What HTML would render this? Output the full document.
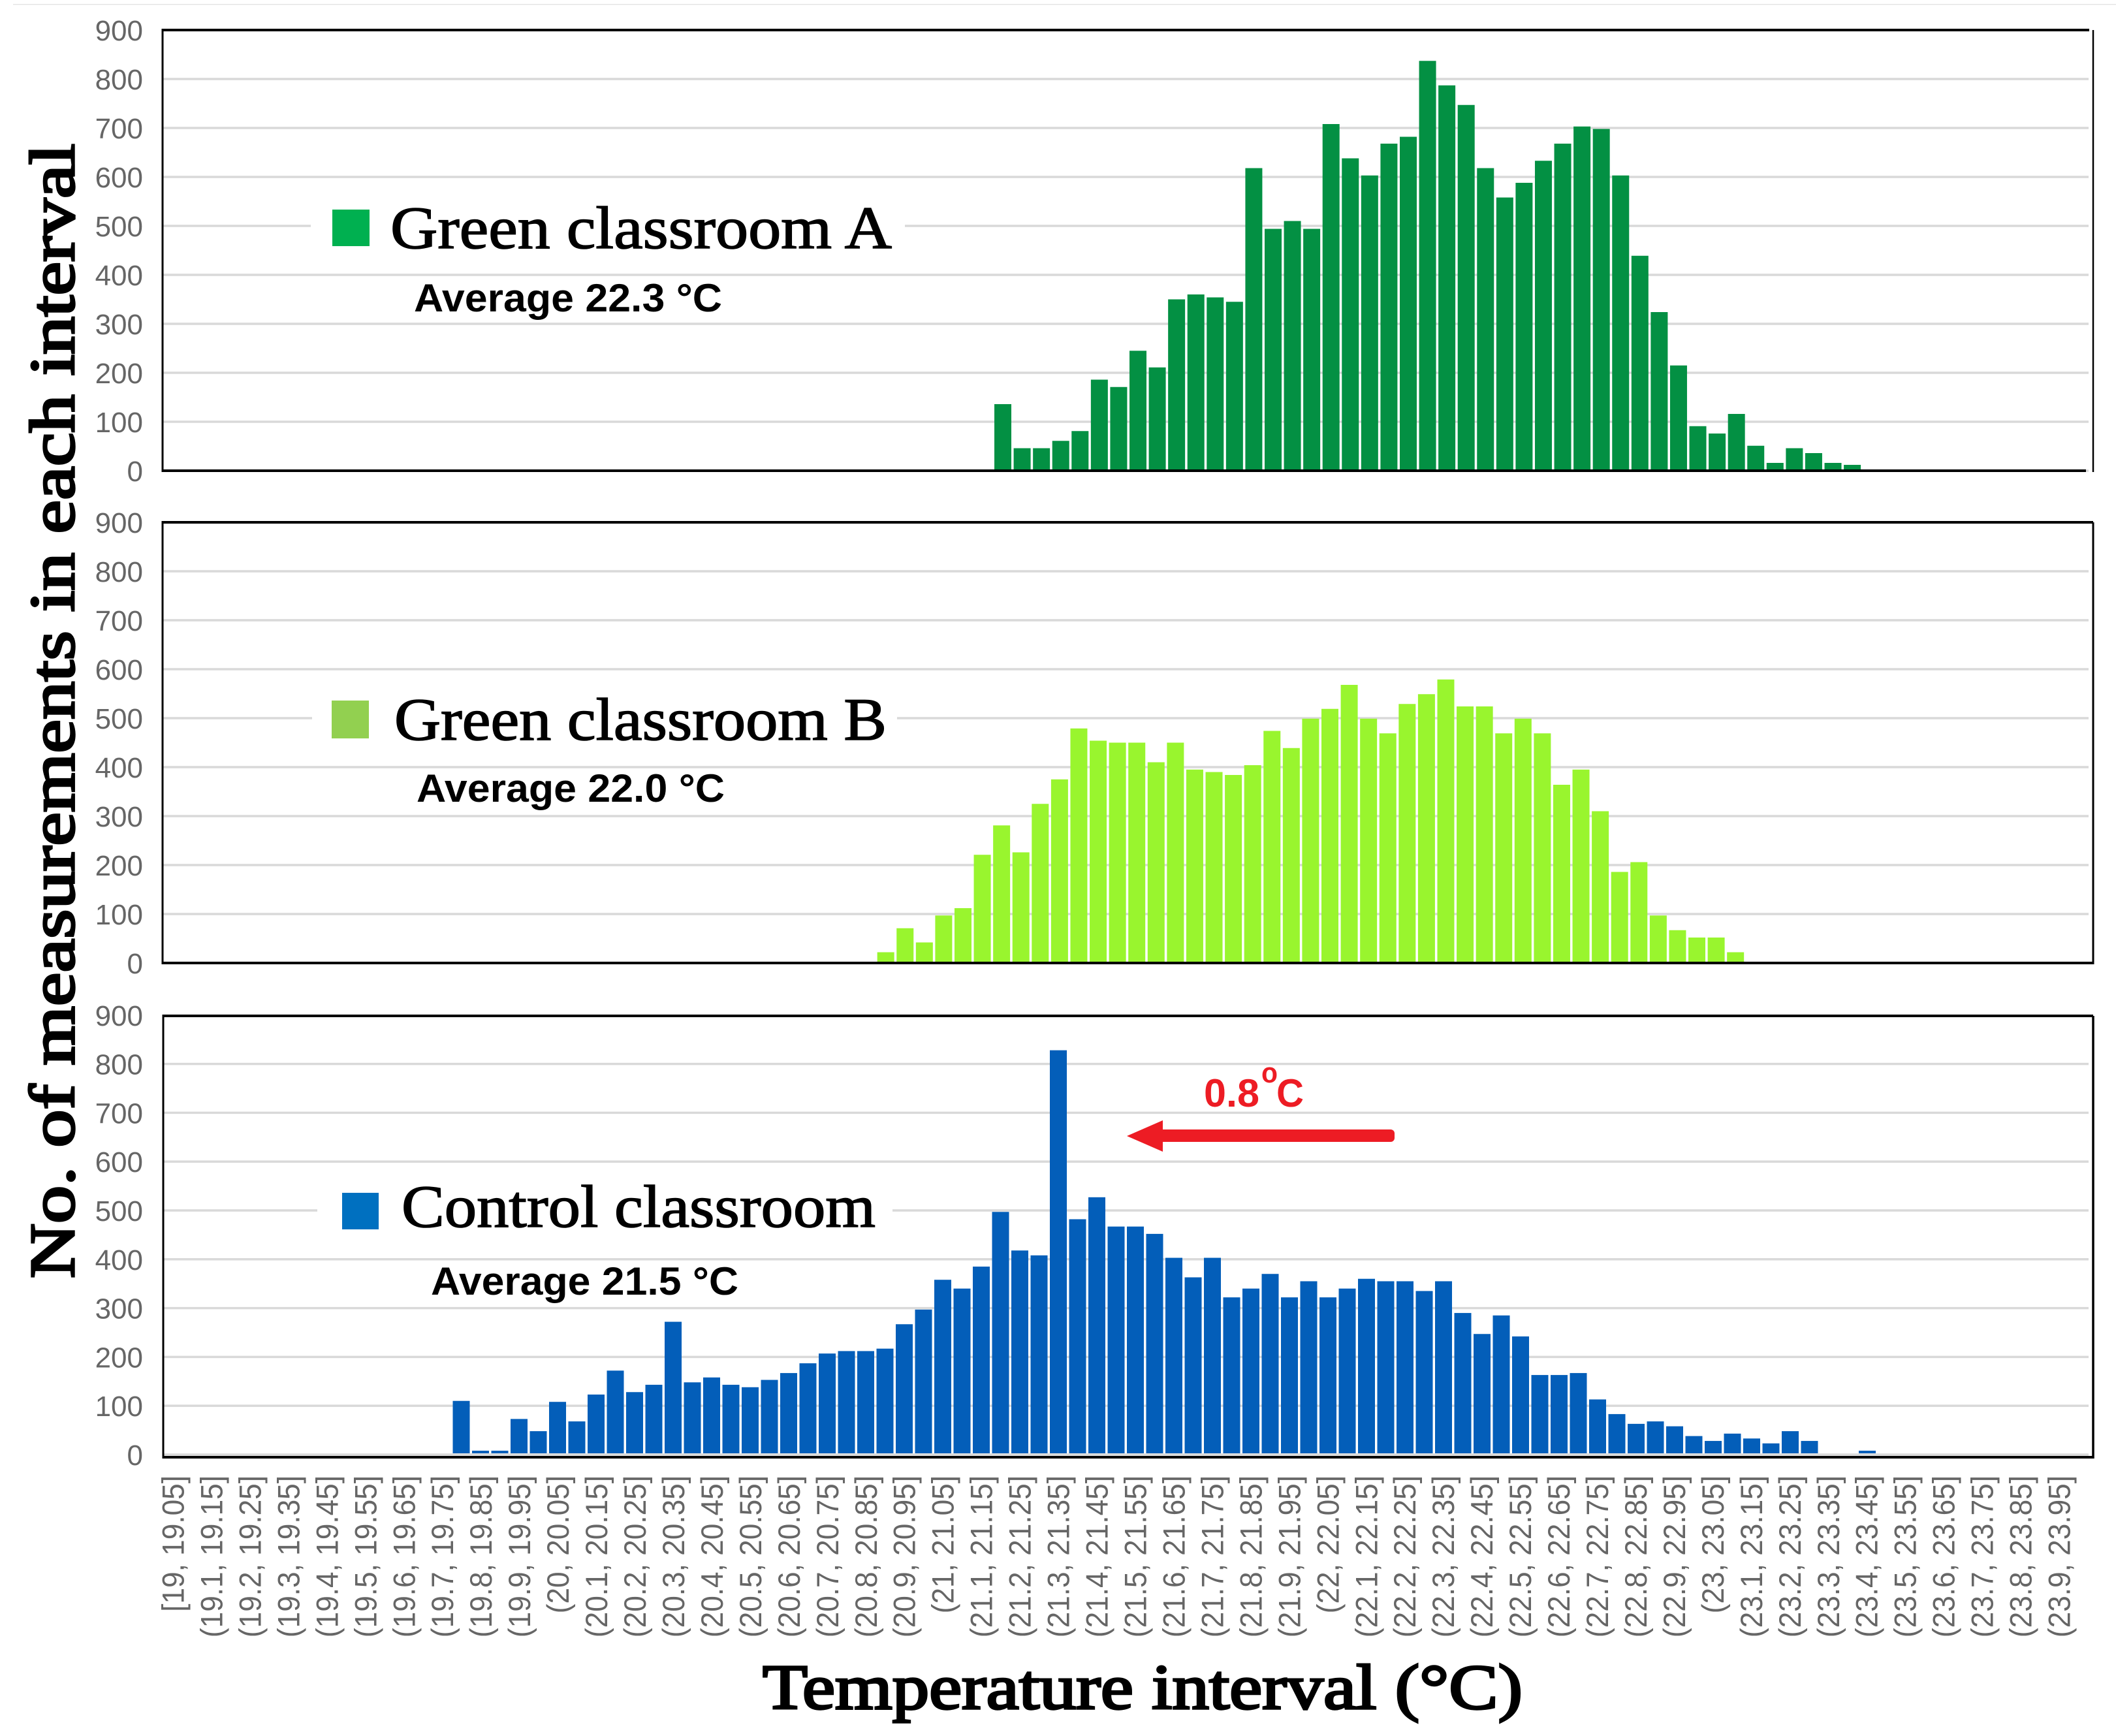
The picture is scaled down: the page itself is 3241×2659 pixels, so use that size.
<!DOCTYPE html>
<html lang="en">
<head>
<meta charset="utf-8">
<title>Temperature interval histograms</title>
<style>
html,body{margin:0;padding:0;background:#fff;}
svg{display:block;}
.tick{font-family:"Liberation Sans",Arial,sans-serif;font-size:44px;fill:#666;}
.xtick{font-family:"Liberation Sans",Arial,sans-serif;font-size:47px;fill:#666;}
.legend{font-family:"Liberation Serif",serif;font-size:92px;fill:#000;stroke:#000;stroke-width:1.6px;}
.avg{font-family:"Liberation Sans",Arial,sans-serif;font-weight:bold;font-size:60px;fill:#000;}
.title{font-family:"Liberation Serif",serif;font-size:98px;fill:#000;stroke:#000;stroke-width:3.4px;}
.anno{font-family:"Liberation Sans",Arial,sans-serif;font-weight:bold;fill:#ed1c24;}
</style>
</head>
<body>
<svg id="chart" xmlns="http://www.w3.org/2000/svg" width="3241" height="2659" viewBox="0 0 3241 2659">
  <rect x="0" y="0" width="3241" height="2659" fill="#fff"/>
  <rect x="20" y="6" width="3221" height="1.5" fill="#e5e5e5"/>
  <g id="panels"></g>

  <g>
    <rect x="476" y="330" width="910" height="30" fill="#fff"/>
    <rect x="509" y="321" width="57" height="56" fill="#00b050"/>
    <text class="legend" x="598" y="380" textLength="768" lengthAdjust="spacingAndGlyphs">Green classroom A</text>
    <text class="avg" x="634" y="477" textLength="472" lengthAdjust="spacingAndGlyphs">Average 22.3 °C</text>
  </g>
  <g>
    <rect x="478" y="1084" width="896" height="30" fill="#fff"/>
    <rect x="508" y="1073" width="57" height="58" fill="#92d050"/>
    <text class="legend" x="604" y="1133" textLength="754" lengthAdjust="spacingAndGlyphs">Green classroom B</text>
    <text class="avg" x="638" y="1228" textLength="472" lengthAdjust="spacingAndGlyphs">Average 22.0 °C</text>
  </g>
  <g>
    <rect x="486" y="1836" width="881" height="30" fill="#fff"/>
    <rect x="524" y="1827" width="56" height="56" fill="#0070c0"/>
    <text class="legend" x="615" y="1879" textLength="726" lengthAdjust="spacingAndGlyphs">Control classroom</text>
    <text class="avg" x="660" y="1983" textLength="471" lengthAdjust="spacingAndGlyphs">Average 21.5 °C</text>
  </g>

  <g>
    <text class="anno" x="1844" y="1695" font-size="60" textLength="85" lengthAdjust="spacingAndGlyphs">0.8</text>
    <text class="anno" x="1932" y="1658" font-size="44" textLength="25" lengthAdjust="spacingAndGlyphs">o</text>
    <text class="anno" x="1955" y="1695" font-size="60" textLength="42" lengthAdjust="spacingAndGlyphs">C</text>
    <rect x="1770" y="1730" width="366" height="19" rx="6" fill="#ed1c24"/>
    <polygon points="1726,1740 1781,1716 1781,1764" fill="#ed1c24"/>
  </g>

  <text class="title" transform="translate(113,1958) rotate(-90)" x="0" y="0" textLength="1738" lengthAdjust="spacingAndGlyphs">No. of measurements in each interval</text>
  <text class="title" x="1168" y="2617" textLength="1164" lengthAdjust="spacingAndGlyphs">Temperature interval (°C)</text>
</svg>
<script>
const yTicks = [0, 100, 200, 300, 400, 500, 600, 700, 800, 900];
const binLabels = [
  "[19, 19.05]", "(19.1, 19.15]", "(19.2, 19.25]", "(19.3, 19.35]", "(19.4, 19.45]",
  "(19.5, 19.55]", "(19.6, 19.65]", "(19.7, 19.75]", "(19.8, 19.85]", "(19.9, 19.95]",
  "(20, 20.05]", "(20.1, 20.15]", "(20.2, 20.25]", "(20.3, 20.35]", "(20.4, 20.45]",
  "(20.5, 20.55]", "(20.6, 20.65]", "(20.7, 20.75]", "(20.8, 20.85]", "(20.9, 20.95]",
  "(21, 21.05]", "(21.1, 21.15]", "(21.2, 21.25]", "(21.3, 21.35]", "(21.4, 21.45]",
  "(21.5, 21.55]", "(21.6, 21.65]", "(21.7, 21.75]", "(21.8, 21.85]", "(21.9, 21.95]",
  "(22, 22.05]", "(22.1, 22.15]", "(22.2, 22.25]", "(22.3, 22.35]", "(22.4, 22.45]",
  "(22.5, 22.55]", "(22.6, 22.65]", "(22.7, 22.75]", "(22.8, 22.85]", "(22.9, 22.95]",
  "(23, 23.05]", "(23.1, 23.15]", "(23.2, 23.25]", "(23.3, 23.35]", "(23.4, 23.45]",
  "(23.5, 23.55]", "(23.6, 23.65]", "(23.7, 23.75]", "(23.8, 23.85]", "(23.9, 23.95]"
];

const firstBinA = 43;
const countsA = [136, 46, 46, 61, 81, 186, 171, 245, 211, 350, 360, 354, 345, 618, 494, 510, 494, 708, 638, 603, 668, 682, 837, 787, 747, 618, 558, 588, 633, 668, 703, 698, 603, 439, 324, 215, 91, 76, 116, 51, 16, 46, 36, 16, 12];

const firstBinB = 37;
const countsB = [22, 71, 42, 97, 112, 221, 281, 226, 325, 375, 479, 454, 450, 450, 410, 450, 395, 390, 384, 404, 474, 439, 499, 519, 568, 499, 469, 529, 549, 579, 524, 524, 469, 499, 469, 364, 395, 310, 186, 206, 97, 67, 52, 52, 22];

const firstBinControl = 15;
const countsControl = [110, 8, 8, 73, 48, 108, 68, 123, 172, 128, 143, 272, 148, 158, 143, 138, 153, 167, 187, 207, 212, 212, 217, 267, 297, 358, 340, 385, 497, 418, 408, 828, 482, 527, 467, 467, 452, 403, 363, 403, 322, 340, 370, 322, 355, 322, 340, 360, 355, 355, 335, 355, 290, 247, 285, 242, 163, 163, 167, 113, 83, 63, 68, 58, 38, 28, 43, 33, 23, 48, 28, 0, 0, 8];

const SVGNS = 'http://www.w3.org/2000/svg';
const root = document.getElementById('panels');

function shape(parent, tag) {
  const el = document.createElementNS(SVGNS, tag);
  parent.appendChild(el);
  return el;
}

function rect(el, x, y, w, h, fill) {
  el.setAttribute('x', x);
  el.setAttribute('y', y);
  el.setAttribute('width', w);
  el.setAttribute('height', h);
  el.setAttribute('fill', fill);
}

function drawPanel(key, counts, firstBin, color, layout) {
  const g = shape(root, 'g');
  
  

  const yScale = v => layout.zeroY - v * layout.unitY;
  const xScale = bin => layout.x0 + bin * layout.stepX;
  const barBase = layout.zeroY - layout.barLift;

  yTicks.forEach(t => {
    if (t < 900) {
      const grid = shape(g, 'rect');
      
      
      rect(grid, layout.left, yScale(t) - 1.75, layout.right - layout.left - 7, 3.5, '#d9d9d9');
    }
    const label = shape(g, 'text');
    
    
    label.setAttribute('class', 'tick');
    label.setAttribute('x', 219);
    label.setAttribute('y', yScale(t) + 16);
    label.setAttribute('text-anchor', 'end');
    label.textContent = t;
  });

  counts.forEach((value, i) => {
    const bin = firstBin + i;
    const bar = shape(g, 'rect');
    
    
    const top = yScale(value);
    rect(bar, xScale(bin) - 13, top, 26, Math.max(0, barBase - top), color);
  });

  const top = layout.frameTop;
  const axisY = layout.axisY;
  const frame = [
    ['frame-top', layout.left - 1.5, top - 2, layout.right - layout.left + 1.5 - layout.topGap, 4],
    ['frame-bottom', layout.left - 1.5, axisY - 2, layout.right - layout.left + 1.5 - layout.bottomGap, 4],
    ['frame-left', layout.left - 1.5, top - 2, 3, axisY - top + 4],
    ['frame-right', layout.right - layout.rightW / 2, top, layout.rightW, axisY - top + 2]
  ];
  frame.forEach(f => {
    const line = shape(g, 'rect');
    
    
    rect(line, f[1], f[2], f[3], f[4], '#000');
  });
}

drawPanel('a', countsA, firstBinA, '#039043', {left: 249, right: 3206, zeroY: 721, unitY: 0.75, x0: 264.5, stepX: 29.57, barLift: 0, frameTop: 46, axisY: 721, topGap: 6, bottomGap: 11, rightW: 2.5});
drawPanel('b', countsB, firstBinB, '#99f52e', {left: 249, right: 3206, zeroY: 1475, unitY: 0.75, x0: 262.2, stepX: 29.58, barLift: 0, frameTop: 800, axisY: 1475, topGap: 0, bottomGap: 0, rightW: 3});
drawPanel('control', countsControl, firstBinControl, '#035eb9', {left: 250, right: 3206, zeroY: 2228, unitY: 0.748, x0: 264, stepX: 29.5, barLift: 2, frameTop: 1556, axisY: 2232, topGap: 0, bottomGap: 0, rightW: 3.5});

const xLabelGroup = shape(root, 'g');


binLabels.forEach((text, i) => {
  const label = shape(xLabelGroup, 'text');
  
  
  label.setAttribute('class', 'xtick');
  label.setAttribute('text-anchor', 'end');
  label.setAttribute('transform', 'translate(' + (281.5 + i * 58.96) + ',2260) rotate(-90) scale(0.94,1)');
  label.textContent = text;
});
</script>
</body>
</html>
